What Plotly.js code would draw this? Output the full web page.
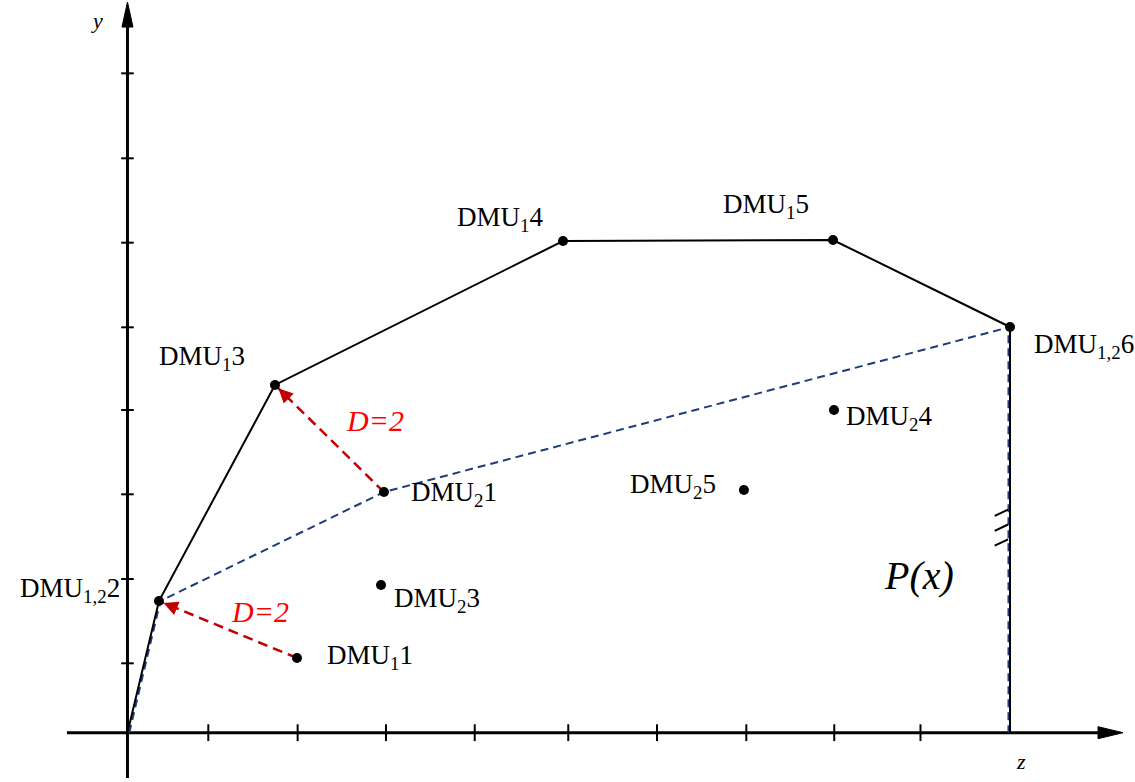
<!DOCTYPE html>
<html>
<head>
<meta charset="utf-8">
<script src="https://cdn.plot.ly/plotly-3.0.1.min.js"></script>
<style>html,body{margin:0;padding:0;background:#fff;}#chart{width:1135px;height:782px;}</style>
</head>
<body>
<div id="chart"></div>
<script>
// ---- data (units: x tick spacing ~1, y tick spacing ~1, origin at 0,0) ----
const pointNames = ["DMU1,2 2","DMU1 3","DMU1 4","DMU1 5","DMU1,2 6","DMU2 1","DMU1 1","DMU2 3","DMU2 4","DMU2 5"];
const pointX = [0.354, 1.659, 4.899, 7.936, 9.927, 2.885, 1.907, 2.852, 7.947, 6.934];
const pointY = [1.562, 4.125, 5.833, 5.845, 4.813, 2.855, 0.886, 1.752, 3.828, 2.879];

// frontier of group 1 (solid black)
const frontier1X = [0, 0.354, 1.659, 4.899, 7.936, 9.927, 9.927];
const frontier1Y = [0, 1.562, 4.125, 5.833, 5.845, 4.813, 0];
// frontier of group 2 (dashed blue)
const frontier2X = [0.02, 0.37, 2.885, 9.927, 9.91, 9.91];
const frontier2Y = [0, 1.562, 2.855, 4.813, 4.75, 0];

// distance arrows (from -> to)
const arrowFromX = [1.907, 2.885];
const arrowFromY = [0.886, 2.855];
const arrowToX = [0.354, 1.659];
const arrowToY = [1.562, 4.125];
const arrowLabels = ["<i>D=2</i>", "<i>D=2</i>"];
const arrowLabelX = [1.142, 2.435];
const arrowLabelY = [1.443, 3.698];

// hatch marks on the vertical boundary
const hatchX = [9.755, 9.905, null, 9.755, 9.905, null, 9.755, 9.905];
const hatchY = [2.572, 2.647, null, 2.395, 2.470, null, 2.218, 2.293];

// tick positions on the axes
const xTicks = [0.909, 1.914, 2.908, 3.906, 4.958, 5.956, 6.961, 7.950, 8.920];
const yTicks = [0.823, 1.823, 2.828, 3.828, 4.809, 5.813, 6.814, 7.822];

// axes extents
const xAxisStart = -0.681, xAxisArrowBase = 10.917, xAxisTip = 11.198;
const yAxisStart = -0.537, yAxisArrowBase = 8.371, yAxisTip = 8.668;

// point labels
const labelTexts = ["DMU<sub>1,2</sub>2","DMU<sub>1</sub>1","DMU<sub>2</sub>3","DMU<sub>1</sub>3","DMU<sub>1</sub>4","DMU<sub>1</sub>5","DMU<sub>1,2</sub>6","DMU<sub>2</sub>4","DMU<sub>2</sub>1","DMU<sub>2</sub>5"];
const labelX = [-0.062, 2.222, 2.975, 0.332, 3.684, 6.676, 10.174, 8.060, 3.166, 5.630];
const labelY = [1.693, 0.898, 1.574, 4.445, 6.094, 6.248, 4.587, 3.733, 2.832, 2.927];
const labelAnchor = ["right","left","left","left","left","left","left","left","left","left"];

const xRange = [-1.434, 11.333];
const yRange = [-0.585, 8.692];
const W = 1135, H = 782;

const serif = "Liberation Serif";
const navy = "#1f3b7a";
const darkRed = "#c00000";

const traces = [];
traces.push({x:[xAxisStart, xAxisArrowBase], y:[0,0], mode:"lines", line:{color:"#000", width:3}, hoverinfo:"skip"});
traces.push({x:[0,0], y:[yAxisStart, yAxisArrowBase], mode:"lines", line:{color:"#000", width:3}, hoverinfo:"skip"});
const ahx = 6 / (H/(yRange[1]-yRange[0]));
const ahy = 5.5 / (W/(xRange[1]-xRange[0]));
traces.push({x:[xAxisArrowBase, xAxisTip, xAxisArrowBase, xAxisArrowBase], y:[-ahx, 0, ahx, -ahx], mode:"lines", fill:"toself", fillcolor:"#000", line:{color:"#000", width:1}, hoverinfo:"skip"});
traces.push({x:[-ahy, 0, ahy, -ahy], y:[yAxisArrowBase, yAxisTip, yAxisArrowBase, yAxisArrowBase], mode:"lines", fill:"toself", fillcolor:"#000", line:{color:"#000", width:1}, hoverinfo:"skip"});
traces.push({x:xTicks, y:xTicks.map(()=>0), mode:"markers", marker:{symbol:"line-ns", size:12, line:{color:"#000", width:2}}, hoverinfo:"skip"});
traces.push({x:yTicks.map(()=>0), y:yTicks, mode:"markers", marker:{symbol:"line-ew", size:9, line:{color:"#000", width:2}}, hoverinfo:"skip"});
traces.push({x:frontier2X, y:frontier2Y, mode:"lines", line:{color:navy, width:2, dash:"8px,5px"}, hoverinfo:"skip"});
traces.push({x:frontier1X, y:frontier1Y, mode:"lines", line:{color:"#000", width:2}, hoverinfo:"skip"});
traces.push({x:hatchX, y:hatchY, mode:"lines", line:{color:"#000", width:2}, connectgaps:false, hoverinfo:"skip"});
for (let i = 0; i < arrowFromX.length; i++) {
  traces.push({x:[arrowFromX[i], arrowToX[i]], y:[arrowFromY[i], arrowToY[i]], mode:"lines", line:{color:darkRed, width:2.5, dash:"10px,6px"}, hoverinfo:"skip"});
}
traces.push({x:pointX, y:pointY, text:pointNames, mode:"markers", marker:{color:"#000", size:10}, hoverinfo:"text"});

const pxPerX = W/(xRange[1]-xRange[0]);
const pxPerY = H/(yRange[1]-yRange[0]);

const annotations = [];
labelTexts.forEach((t, i) => {
  annotations.push({x:labelX[i], y:labelY[i], xref:"x", yref:"y", text:t, showarrow:false, xanchor:labelAnchor[i], yanchor:"middle", font:{family:serif, size:27, color:"#000"}});
});
for (let i = 0; i < arrowFromX.length; i++) {
  const dxp = (arrowFromX[i]-arrowToX[i])*pxPerX;
  const dyp = -(arrowFromY[i]-arrowToY[i])*pxPerY;
  const len = Math.hypot(dxp, dyp);
  annotations.push({x:arrowToX[i], y:arrowToY[i], xref:"x", yref:"y", ax:dxp/len*22, ay:dyp/len*22, text:"", showarrow:true, arrowhead:2, arrowsize:1.3, arrowwidth:2.2, arrowcolor:darkRed, standoff:5});
  annotations.push({x:arrowLabelX[i], y:arrowLabelY[i], xref:"x", yref:"y", text:arrowLabels[i], showarrow:false, xanchor:"left", yanchor:"middle", font:{family:serif, size:30, color:"#ff0000"}});
}
annotations.push({x:8.487, y:1.859, xref:"x", yref:"y", text:"<i>P(x)</i>", showarrow:false, xanchor:"left", yanchor:"middle", font:{family:serif, size:40, color:"#000"}});
annotations.push({x:-0.343, y:8.454, xref:"x", yref:"y", text:"<i>y</i>", showarrow:false, xanchor:"center", yanchor:"middle", font:{family:serif, size:22, color:"#000"}});
annotations.push({x:10.05, y:-0.336, xref:"x", yref:"y", text:"<i>z</i>", showarrow:false, xanchor:"center", yanchor:"middle", font:{family:serif, size:22, color:"#000"}});

const layout = {
  width: W, height: H,
  margin:{l:0, r:0, t:0, b:0, pad:0},
  paper_bgcolor:"#fff", plot_bgcolor:"#fff",
  showlegend:false,
  font:{family:serif},
  xaxis:{range:xRange, visible:false, fixedrange:true},
  yaxis:{range:yRange, visible:false, fixedrange:true},
  annotations: annotations
};
Plotly.newPlot("chart", traces, layout, {displayModeBar:false, staticPlot:true});
</script>
</body>
</html>
